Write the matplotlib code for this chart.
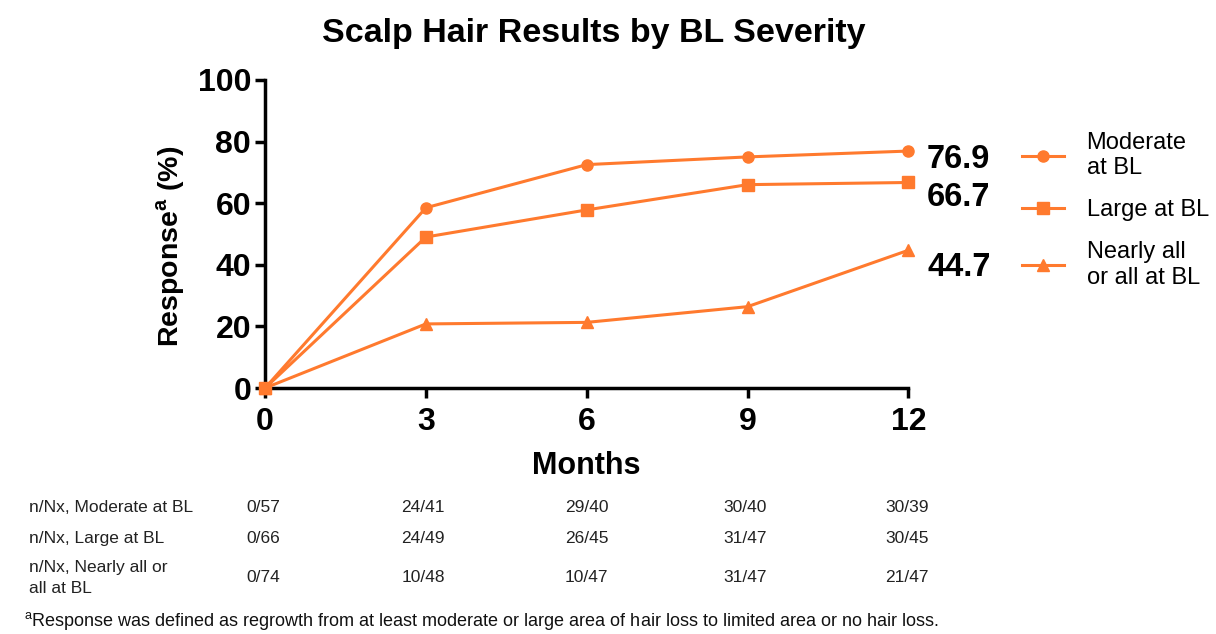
import matplotlib
matplotlib.use('Agg')
import matplotlib.pyplot as plt

months = [0, 3, 6, 9, 12]
moderate = [0, 58.5, 72.5, 75.0, 76.9]
large = [0, 49.0, 57.8, 66.0, 66.7]
nearly_all = [0, 20.8, 21.3, 26.4, 44.7]

series_names = ['Moderate\nat BL', 'Large at BL', 'Nearly all\nor all at BL']
end_labels = ['76.9', '66.7', '44.7']

row_labels = ['n/Nx, Moderate at BL', 'n/Nx, Large at BL', 'n/Nx, Nearly all or\nall at BL']
counts = [
    ['0/57', '24/41', '29/40', '30/40', '30/39'],
    ['0/66', '24/49', '26/45', '31/47', '30/45'],
    ['0/74', '10/48', '10/47', '31/47', '21/47'],
]

orange = '#FF7A2E'
plt.rcParams['font.family'] = ['Liberation Sans', 'DejaVu Sans']

fig = plt.figure(figsize=(12.16, 6.34), dpi=100)
ax = fig.add_axes([0.218, 0.388, 0.529, 0.486])

markers = ['o', 's', '^']
for vals, name, m in zip([moderate, large, nearly_all], series_names, markers):
    ax.plot(months, vals, color=orange, lw=2.2, marker=m, ms=8, label=name, clip_on=False, zorder=3)

ax.set_xlim(0, 12)
ax.set_ylim(0, 100)
ax.set_xticks(months)
ax.set_yticks([0, 20, 40, 60, 80, 100])
for s in ['top', 'right']:
    ax.spines[s].set_visible(False)
for s in ['left', 'bottom']:
    ax.spines[s].set_linewidth(2.5)
ax.tick_params(width=2.5, length=7, pad=3)
ax.tick_params(axis='x', pad=7)
for lab in ax.get_xticklabels() + ax.get_yticklabels():
    lab.set_fontweight('bold')
    lab.set_fontsize(23)

ax.set_xlabel('Months', fontsize=22, fontweight='bold', labelpad=10)
ax.set_ylabel('Response$^{\\mathregular{a}}$ (%)', fontsize=20.5, fontweight='bold', labelpad=8)
ax.yaxis.label.set_y(0.46)

for vals, txt, dy in zip([moderate, large, nearly_all], end_labels, [-2.9, -5.0, -5.7]):
    ax.text(12.35, vals[-1] + dy, txt, fontsize=23.5, fontweight='bold', va='center', ha='left')

leg = ax.legend(loc='upper left', bbox_to_anchor=(1.143, 0.90), frameon=False,
                fontsize=17, handlelength=1.8, labelspacing=0.85, handletextpad=0.95)

fig.suptitle('Scalp Hair Results by BL Severity', x=0.488, y=0.972, fontsize=24.5, fontweight='bold')

row_y = [0.200, 0.151, 0.089]
col_x = [0.2165, 0.348, 0.4825, 0.6125, 0.746]
for lab, y, row in zip(row_labels, row_y, counts):
    fig.text(0.024, y, lab, fontsize=12.5, va='center', ha='left', color='#222222',
             linespacing=1.5)
    for x, c in zip(col_x, row):
        fig.text(x, y, c, fontsize=12.5, va='center', ha='center', color='#222222')

fig.text(0.020, 0.020, '$^{\\mathregular{a}}$Response was defined as regrowth from at least moderate or large area of hair loss to limited area or no hair loss.',
         fontsize=13, ha='left', va='center', color='#111111')

fig.savefig('out.png', dpi=100)
